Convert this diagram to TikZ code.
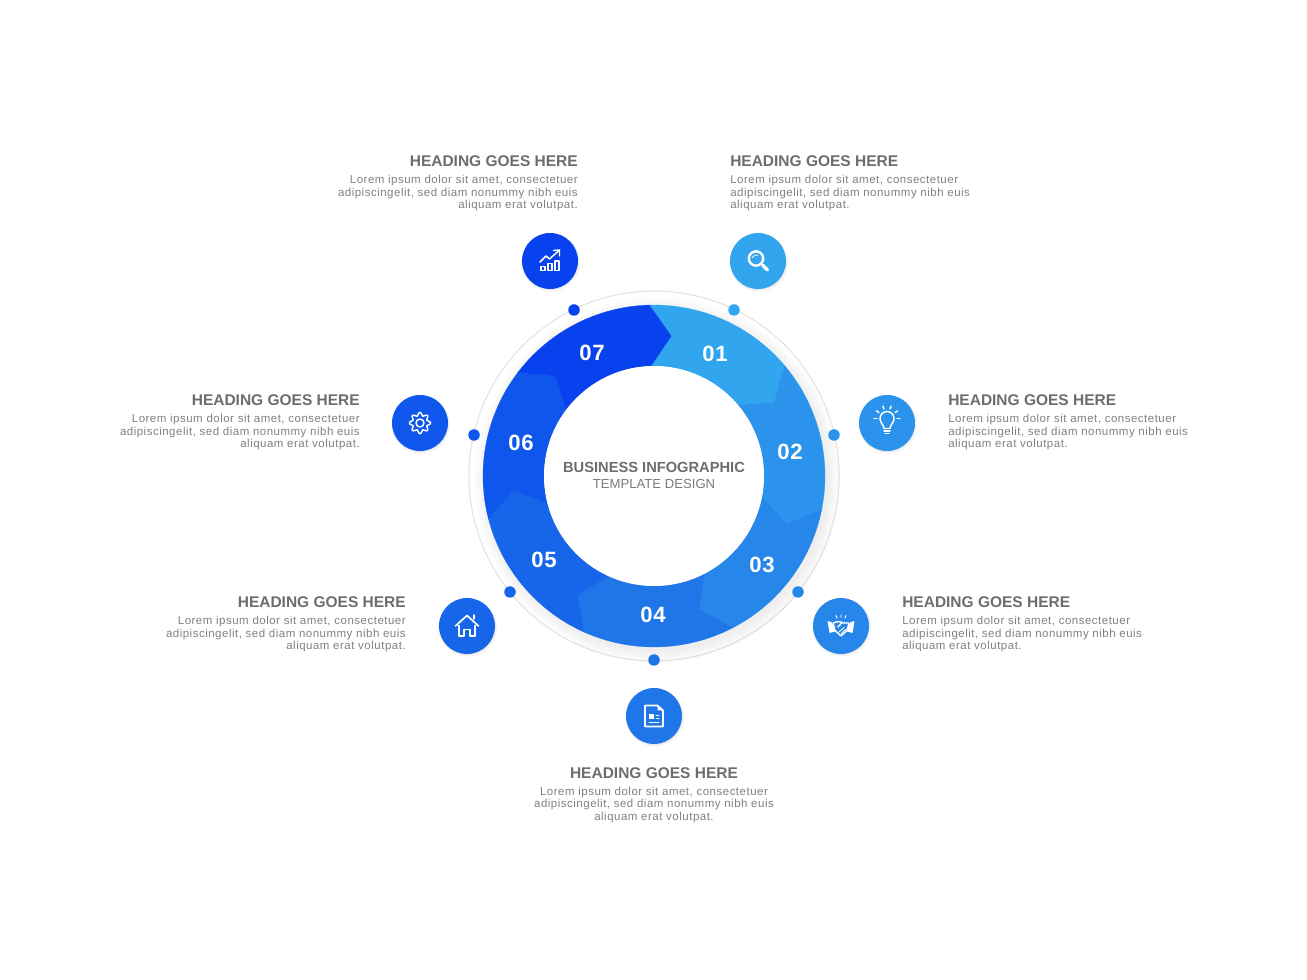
\documentclass[tikz,border=0pt]{standalone}
\usepackage{fontspec}
\setmainfont{Liberation Sans}
\usetikzlibrary{shadows}

\definecolor{seg1}{HTML}{32A5EF}
\definecolor{seg2}{HTML}{2C93EC}
\definecolor{seg3}{HTML}{2686EA}
\definecolor{seg4}{HTML}{1E76E8}
\definecolor{seg5}{HTML}{1766E9}
\definecolor{seg6}{HTML}{0F56EC}
\definecolor{seg7}{HTML}{0842EE}
\definecolor{headgray}{HTML}{6D6D6D}
\definecolor{bodygray}{HTML}{808080}

\tikzset{
    iconball/.style={circle, minimum size=1.422cm, inner sep=0pt,
        drop shadow={shadow xshift=.5pt, shadow yshift=-.9pt, opacity=.08, fill=gray, shadow scale=1.05},
        drop shadow={shadow xshift=.3pt, shadow yshift=-.5pt, opacity=.12, fill=gray, shadow scale=1.01}},
    dotmark/.style={circle, minimum size=.292cm, inner sep=0pt},
    segnum/.style={text=white, font=\fontsize{16}{16}\selectfont\bfseries\addfontfeature{LetterSpace=3}},
    headline/.style={text=headgray, inner sep=0pt, font=\fontsize{11.2}{12}\selectfont\bfseries},
    bodytext/.style={text=bodygray, inner sep=0pt, font=\fontsize{8.3}{9.1}\selectfont\addfontfeature{LetterSpace=4.4}},
    glyph/.style={draw=white, line width=1.05pt, line join=round, line cap=round}
}

% one piece of the ring: start angle, colour
\newcommand{\ringpiece}[2]{
    \path[fill=#2, draw=#2, line width=.2pt] (#1:1.71) arc[start angle=#1, delta angle=-51.43, radius=1.71]
        -- ({#1-60.03}:1.41) -- ({#1-51.43}:1.10)
        arc[start angle={#1-51.43}, delta angle=51.43, radius=1.10]
        -- ({#1-8.6}:1.41) -- cycle;
}

\begin{document}
\begin{tikzpicture}[x=2.54cm, y=2.54cm]
    \useasboundingbox (0,0) rectangle (13.07,9.80);

    % Thin outer ring and soft shadow
    \coordinate (mid) at (6.54,5.04);
    \node[circle, draw=black!10, line width=.9pt, minimum size=9.398cm, inner sep=0pt] (track) at (mid) {};
    \foreach \r in {1.71,1.73,...,1.83}
        \fill[gray, opacity=.02] (6.57,5.00) circle (\r);

    % Ring pieces
    \begin{scope}[shift={(mid)}]
        \ringpiece{91.6}{seg1}
        \ringpiece{40.17}{seg2}
        \ringpiece{-11.26}{seg3}
        \ringpiece{-62.69}{seg4}
        \ringpiece{-114.12}{seg5}
        \ringpiece{-165.55}{seg6}
        \ringpiece{143.02}{seg7}
    \end{scope}
    \node[circle, fill=white, minimum size=5.588cm, inner sep=0pt] (hub) at (mid) {};

    % Numbers on the ring
    \node[segnum] (num1) at (7.15,6.26) {01};
    \node[segnum] (num2) at (7.90,5.28) {02};
    \node[segnum] (num3) at (7.62,4.15) {03};
    \node[segnum] (num4) at (6.53,3.65) {04};
    \node[segnum] (num5) at (5.44,4.20) {05};
    \node[segnum] (num6) at (5.21,5.37) {06};
    \node[segnum] (num7) at (5.92,6.27) {07};

    % Centre text
    \node[text=headgray, inner sep=0pt, font=\fontsize{10.6}{12}\selectfont\bfseries] (title) at (6.54,5.13) {BUSINESS INFOGRAPHIC};
    \node[text=headgray!90, inner sep=0pt, font=\fontsize{9.5}{12}\selectfont] (subtitle) at (6.54,4.96) {TEMPLATE DESIGN};

    % Dots on the thin ring
    \node[dotmark, fill=seg1] (dot1) at (7.34,6.70) {};
    \node[dotmark, fill=seg2] (dot2) at (8.34,5.45) {};
    \node[dotmark, fill=seg3] (dot3) at (7.98,3.88) {};
    \node[dotmark, fill=seg4] (dot4) at (6.54,3.20) {};
    \node[dotmark, fill=seg5] (dot5) at (5.10,3.88) {};
    \node[dotmark, fill=seg6] (dot6) at (4.74,5.45) {};
    \node[dotmark, fill=seg7] (dot7) at (5.74,6.70) {};

    % Icon circles
    \node[iconball, fill=seg1] (icon1) at (7.58,7.19) {};
    \node[iconball, fill=seg2] (icon2) at (8.87,5.57) {};
    \node[iconball, fill=seg3] (icon3) at (8.41,3.54) {};
    \node[iconball, fill=seg4] (icon4) at (6.54,2.64) {};
    \node[iconball, fill=seg5] (icon5) at (4.67,3.54) {};
    \node[iconball, fill=seg6] (icon6) at (4.20,5.57) {};
    \node[iconball, fill=seg7] (icon7) at (5.50,7.19) {};

    % Magnifier
    \begin{scope}[shift={(icon1)}]
        \draw[glyph, line width=1.7pt] (-.02,.025) circle (.072);
        \draw[glyph, line width=2.4pt] (.045,-.04) -- (.095,-.09);
        \draw[glyph, line width=.6pt] (-.055,.035) arc[start angle=160, end angle=70, radius=.04];
    \end{scope}

    % Light bulb
    \begin{scope}[shift={(icon2)}]
        \draw[glyph] (-.03,-.055) .. controls (-.035,-.01) and (-.07,.0) .. (-.07,.045)
            arc[start angle=180, end angle=0, radius=.07]
            .. controls (.07,.0) and (.035,-.01) .. (.03,-.055) -- cycle;
        \draw[glyph] (-.03,-.08) -- (.03,-.08);
        \draw[glyph] (-.02,-.105) -- (.02,-.105);
        \foreach \a in {0,36,...,180}
            \draw[glyph] (\a:.10) ++(0,.045) -- ++(\a:.03);
    \end{scope}

    % Handshake
    \begin{scope}[shift={(icon3)}]
        \fill[white] (-.135,.05) -- (-.09,.035) -- (-.06,-.055) -- (-.115,-.07) -- cycle;
        \fill[white] (.135,.05) -- (.09,.035) -- (.06,-.055) -- (.115,-.07) -- cycle;
        \draw[glyph, rounded corners=.5pt] (-.08,.03) -- (-.03,.045) -- (.03,.03) -- (.08,.03) -- (.06,-.045) -- (.0,-.10) -- (-.06,-.045) -- cycle;
        \draw[glyph, rounded corners=.5pt] (-.03,-.01) -- (.01,.035);
        \draw[glyph, line width=.6pt] (-.02,-.06) -- (.03,-.015) (.0,-.08) -- (.045,-.035);
        \draw[glyph, line width=.7pt] (0,.085) -- (0,.115) (-.04,.08) -- (-.05,.105) (.04,.08) -- (.05,.105);
    \end{scope}

    % Document
    \begin{scope}[shift={(icon4)}]
        \draw[glyph, line width=1.3pt] (-.09,.105) -- (.035,.105) -- (.09,.055) -- (.09,-.105) -- (-.09,-.105) -- cycle;
        \fill[white] (.035,.105) -- (.09,.055) -- (.035,.055) -- cycle;
        \fill[white] (-.05,-.03) rectangle (-.005,.015);
        \draw[glyph, line width=.7pt] (.02,.01) -- (.05,.01) (.02,-.025) -- (.05,-.025) (-.05,-.065) -- (.05,-.065);
    \end{scope}

    % House
    \begin{scope}[shift={(icon5)}]
        \draw[glyph, line width=1.2pt] (-.115,.0) -- (0,.105) -- (.115,.0);
        \draw[glyph] (-.08,.005) -- (-.08,-.10) -- (-.03,-.10) -- (-.03,-.035) -- (.03,-.035) -- (.03,-.10) -- (.08,-.10) -- (.08,.005);
        \draw[glyph] (.07,.07) -- (.07,.11);
    \end{scope}

    % Gear
    \begin{scope}[shift={(icon6)}]
        \draw[glyph] plot[smooth cycle, samples=49, domain=0:352.5]
            ({(.09+.017*cos(8*\x))*cos(\x)},{(.09+.017*cos(8*\x))*sin(\x)});
        \draw[glyph] (0,0) circle (.04);
    \end{scope}

    % Chart
    \begin{scope}[shift={(icon7)}]
        \draw[glyph, line width=.95pt] (-.09,-.095) rectangle (-.05,-.055);
        \draw[glyph, line width=.95pt] (-.02,-.095) rectangle (.02,-.025);
        \draw[glyph, line width=.95pt] (.05,-.095) rectangle (.09,.0);
        \draw[glyph] (-.10,-.01) -- (-.04,.05) -- (-.005,.02) -- (.085,.10);
        \draw[glyph] (.035,.105) -- (.095,.11) -- (.095,.05);
    \end{scope}

    % Text blocks, right side
    \node[headline, anchor=base west] (head1) at (7.30,8.135) {HEADING GOES HERE};
    \node[bodytext, anchor=west, align=left] (body1) at (7.30,7.868) {Lorem ipsum dolor sit amet, consectetuer\\adipiscingelit, sed diam nonummy nibh euis\\aliquam erat volutpat.};
    \node[headline, anchor=base west] (head2) at (9.48,5.745) {HEADING GOES HERE};
    \node[bodytext, anchor=west, align=left] (body2) at (9.48,5.478) {Lorem ipsum dolor sit amet, consectetuer\\adipiscingelit, sed diam nonummy nibh euis\\aliquam erat volutpat.};
    \node[headline, anchor=base west] (head3) at (9.02,3.725) {HEADING GOES HERE};
    \node[bodytext, anchor=west, align=left] (body3) at (9.02,3.458) {Lorem ipsum dolor sit amet, consectetuer\\adipiscingelit, sed diam nonummy nibh euis\\aliquam erat volutpat.};

    % Text block, bottom
    \node[headline, anchor=base] (head4) at (6.54,2.015) {HEADING GOES HERE};
    \node[bodytext, align=center] (body4) at (6.54,1.753) {Lorem ipsum dolor sit amet, consectetuer\\adipiscingelit, sed diam nonummy nibh euis\\aliquam erat volutpat.};

    % Text blocks, left side
    \node[headline, anchor=base east] (head5) at (4.06,3.725) {HEADING GOES HERE};
    \node[bodytext, anchor=east, align=right] (body5) at (4.06,3.458) {Lorem ipsum dolor sit amet, consectetuer\\adipiscingelit, sed diam nonummy nibh euis\\aliquam erat volutpat.};
    \node[headline, anchor=base east] (head6) at (3.60,5.745) {HEADING GOES HERE};
    \node[bodytext, anchor=east, align=right] (body6) at (3.60,5.478) {Lorem ipsum dolor sit amet, consectetuer\\adipiscingelit, sed diam nonummy nibh euis\\aliquam erat volutpat.};
    \node[headline, anchor=base east] (head7) at (5.78,8.135) {HEADING GOES HERE};
    \node[bodytext, anchor=east, align=right] (body7) at (5.78,7.868) {Lorem ipsum dolor sit amet, consectetuer\\adipiscingelit, sed diam nonummy nibh euis\\aliquam erat volutpat.};

\end{tikzpicture}
\end{document}
